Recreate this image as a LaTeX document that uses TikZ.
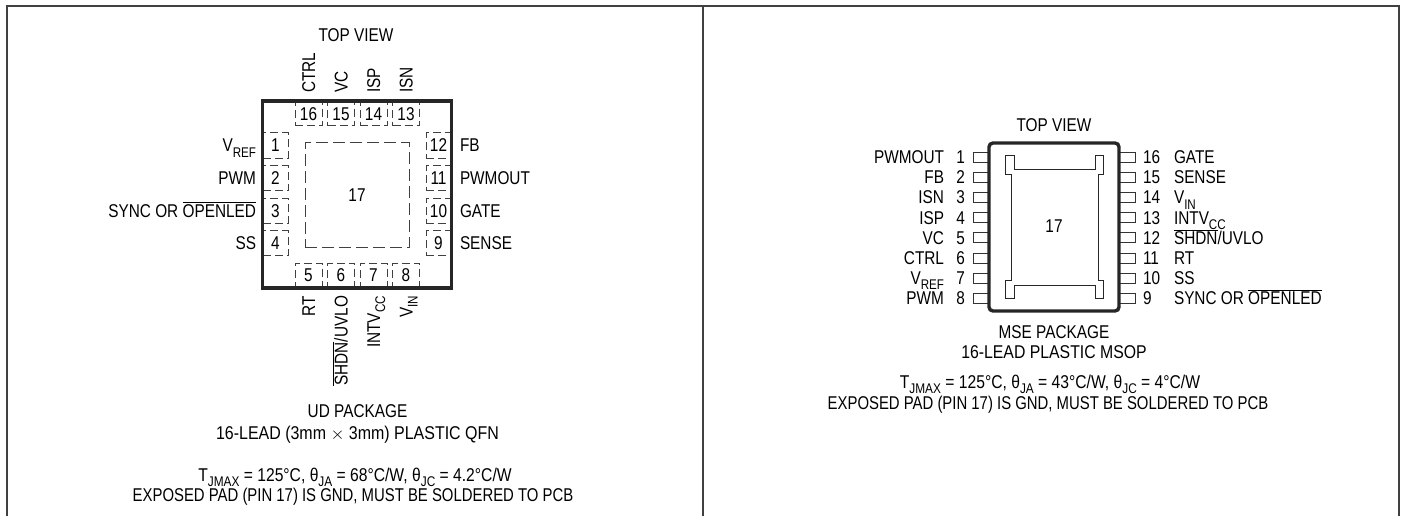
\documentclass[tikz,border=0pt]{standalone}
\usepackage{fontspec}
\setmainfont[FakeStretch=0.83]{Liberation Sans}
\usetikzlibrary{positioning}

\newcommand{\pinsub}[1]{\raisebox{-0.28em}{\fontsize{14}{14}\selectfont #1}}
\newcommand{\pinbar}[1]{$\overline{\mbox{#1}}$}

\tikzset{
	pinfont/.style={inner sep=0pt, outer sep=0pt, font=\fontsize{18.5}{20}\selectfont, text=black, text height=13pt, text depth=0pt},
	qfnpin/.style={pinfont, draw=black!75, line width=1pt, dash pattern=on 8pt off 4pt},
	pinh/.style={qfnpin, minimum width=27pt, minimum height=23pt},
	pinv/.style={qfnpin, minimum width=25pt, minimum height=25pt},
	lead/.style={draw=black!80, line width=1pt, minimum width=16pt, minimum height=10pt, inner sep=0pt},
	caption/.style={inner sep=0pt, align=center, font=\fontsize{18.5}{21}\selectfont, text=black}
}

\begin{document}
\begin{tikzpicture}[x=1pt, y=-1pt]
	\useasboundingbox (0,0) rectangle (1405,516);

	% Riquadri
	\coordinate (frameA) at (7,516);
	\coordinate (frameB) at (7,6.5);
	\coordinate (frameC) at (702.5,6.5);
	\coordinate (frameD) at (702.5,516);
	\coordinate (frameE) at (1399,6.5);
	\coordinate (frameF) at (1399,516);
	\draw[black!75, line width=2pt] (frameA) -- (frameB) -- (frameE) -- (frameF);
	\draw[black!75, line width=2pt] (frameC) -- (frameD);

	% Contenitore QFN
	\node[pinfont] (topq) at (356,35) {TOP VIEW};

	% Piedini in alto
	\node[pinh] (q16) at (308.5,114.5) {16};
	\node[pinh] (q15) at (341,114.5) {15};
	\node[pinh] (q14) at (373.5,114.5) {14};
	\node[pinh] (q13) at (406,114.5) {13};
	\node[pinfont, rotate=90, anchor=west] (lq16) at (308.5,93) {CTRL};
	\node[pinfont, rotate=90, anchor=west] (lq15) at (341,93) {VC};
	\node[pinfont, rotate=90, anchor=west] (lq14) at (373.5,93) {ISP};
	\node[pinfont, rotate=90, anchor=west] (lq13) at (406,93) {ISN};

	% Piedini a sinistra
	\node[pinv] (q1) at (275.5,145.5) {1};
	\node[pinv] (q2) at (275.5,178) {2};
	\node[pinv] (q3) at (275.5,210.5) {3};
	\node[pinv] (q4) at (275.5,243) {4};
	\node[pinfont, left=7pt of q1] (lq1) {V\pinsub{REF}};
	\node[pinfont, left=7pt of q2] (lq2) {PWM};
	\node[pinfont, left=7pt of q3] (lq3) {SYNC OR \pinbar{OPENLED}};
	\node[pinfont, left=7pt of q4] (lq4) {SS};

	% Piedini in basso
	\node[pinh] (q5) at (308.5,274.5) {5};
	\node[pinh] (q6) at (341,274.5) {6};
	\node[pinh] (q7) at (373.5,274.5) {7};
	\node[pinh] (q8) at (406,274.5) {8};
	\node[pinfont, rotate=90, anchor=east] (lq5) at (308.5,296) {RT};
	\node[pinfont, rotate=90, anchor=east] (lq6) at (341,296) {\pinbar{SHDN}/UVLO};
	\node[pinfont, rotate=90, anchor=east] (lq7) at (373.5,296) {INTV\pinsub{CC}};
	\node[pinfont, rotate=90, anchor=east] (lq8) at (406,296) {V\pinsub{IN}};

	% Piedini a destra
	\node[pinv] (q12) at (438.5,145.5) {12};
	\node[pinv] (q11) at (438.5,178) {11};
	\node[pinv] (q10) at (438.5,210.5) {10};
	\node[pinv] (q9) at (438.5,243) {9};
	\node[pinfont, right=9pt of q12] (lq12) {FB};
	\node[pinfont, right=9pt of q11] (lq11) {PWMOUT};
	\node[pinfont, right=9pt of q10] (lq10) {GATE};
	\node[pinfont, right=9pt of q9] (lq9) {SENSE};

	% Piazzola e corpo
	\node[qfnpin, dash pattern=on 12pt off 5pt, minimum width=104pt, minimum height=104pt] (padq) at (357,195) {17};
	\node[draw=black!85, line width=3.6pt, minimum width=189pt, minimum height=187pt] (bodyq) at (357,194.5) {};

	% Testo QFN
	\node[caption] (capq) at (357.5,424) {UD PACKAGE\\[1pt]\scalebox{1.04}[1]{16-LEAD (3mm $\times$ 3mm) PLASTIC QFN}};
	\node[caption, font=\fontsize{18.5}{20}\selectfont] (noteq) at (353,487) {\hspace*{4pt}\scalebox{1.02}[1]{T\pinsub{JMAX} = 125°C, θ\pinsub{JA} = 68°C/W, θ\pinsub{JC} = 4.2°C/W}\\\scalebox{0.97}[1]{EXPOSED PAD (PIN 17) IS GND, MUST BE SOLDERED TO PCB}};

	% Contenitore MSOP
	\node[pinfont] (topm) at (1054,125) {TOP VIEW};

	% Terminali a sinistra
	\node[lead] (m1) at (981.5,157) {};
	\node[lead] (m2) at (981.5,177.2) {};
	\node[lead] (m3) at (981.5,197.4) {};
	\node[lead] (m4) at (981.5,217.6) {};
	\node[lead] (m5) at (981.5,237.8) {};
	\node[lead] (m6) at (981.5,258) {};
	\node[lead] (m7) at (981.5,278.2) {};
	\node[lead] (m8) at (981.5,298.4) {};
	\node[pinfont, left=8pt of m1] (n1) {1};
	\node[pinfont, left=8pt of m2] (n2) {2};
	\node[pinfont, left=8pt of m3] (n3) {3};
	\node[pinfont, left=8pt of m4] (n4) {4};
	\node[pinfont, left=8pt of m5] (n5) {5};
	\node[pinfont, left=8pt of m6] (n6) {6};
	\node[pinfont, left=8pt of m7] (n7) {7};
	\node[pinfont, left=8pt of m8] (n8) {8};
	\node[pinfont, left=29pt of m1] (lm1) {PWMOUT};
	\node[pinfont, left=29pt of m2] (lm2) {FB};
	\node[pinfont, left=29pt of m3] (lm3) {ISN};
	\node[pinfont, left=29pt of m4] (lm4) {ISP};
	\node[pinfont, left=29pt of m5] (lm5) {VC};
	\node[pinfont, left=29pt of m6] (lm6) {CTRL};
	\node[pinfont, left=29pt of m7] (lm7) {V\pinsub{REF}};
	\node[pinfont, left=29pt of m8] (lm8) {PWM};

	% Terminali a destra
	\node[lead] (m16) at (1127.5,157) {};
	\node[lead] (m15) at (1127.5,177.2) {};
	\node[lead] (m14) at (1127.5,197.4) {};
	\node[lead] (m13) at (1127.5,217.6) {};
	\node[lead] (m12) at (1127.5,237.8) {};
	\node[lead] (m11) at (1127.5,258) {};
	\node[lead] (m10) at (1127.5,278.2) {};
	\node[lead] (m9) at (1127.5,298.4) {};
	\node[pinfont, right=7pt of m16] (n16) {16};
	\node[pinfont, right=7pt of m15] (n15) {15};
	\node[pinfont, right=7pt of m14] (n14) {14};
	\node[pinfont, right=7pt of m13] (n13) {13};
	\node[pinfont, right=7pt of m12] (n12) {12};
	\node[pinfont, right=7pt of m11] (n11) {11};
	\node[pinfont, right=7pt of m10] (n10) {10};
	\node[pinfont, right=7pt of m9] (n9) {9};
	\node[pinfont, right=38pt of m16] (lm16) {GATE};
	\node[pinfont, right=38pt of m15] (lm15) {SENSE};
	\node[pinfont, right=38pt of m14] (lm14) {V\pinsub{IN}};
	\node[pinfont, right=38pt of m13] (lm13) {INTV\pinsub{CC}};
	\node[pinfont, right=38pt of m12] (lm12) {\pinbar{SHDN}/UVLO};
	\node[pinfont, right=38pt of m11] (lm11) {RT};
	\node[pinfont, right=38pt of m10] (lm10) {SS};
	\node[pinfont, right=38pt of m9] (lm9) {SYNC OR \pinbar{OPENLED}};

	% Corpo e piazzola
	\node[draw=black!85, fill=white, line width=3.4pt, rounded corners=4pt, minimum width=130pt, minimum height=168pt] (bodym) at (1054,227) {};
	\draw[black!85, line width=1pt] (1005.7,155.7) -- (1014,155.7) -- (1014,169.3) -- (1095,169.3) -- (1095,155.7) -- (1103.3,155.7) -- (1103.3,174) -- (1098,174) -- (1098,280) -- (1103.3,280) -- (1103.3,298.3) -- (1095,298.3) -- (1095,285) -- (1014,285) -- (1014,298.3) -- (1005.7,298.3) -- (1005.7,280) -- (1011,280) -- (1011,174) -- (1005.7,174) -- cycle;
	\node[pinfont] (padm) at (1054,226) {17};

	% Testo MSOP
	\node[caption, font=\fontsize{18.5}{20}\selectfont] (capm) at (1054,342) {MSE PACKAGE\\\scalebox{1.03}[1]{16-LEAD PLASTIC MSOP}};
	\node[caption, font=\fontsize{18.5}{21.5}\selectfont] (notem) at (1048,394) {\hspace*{4pt}\scalebox{1.02}[1]{T\pinsub{JMAX} = 125°C, θ\pinsub{JA} = 43°C/W, θ\pinsub{JC} = 4°C/W}\\\scalebox{0.97}[1]{EXPOSED PAD (PIN 17) IS GND, MUST BE SOLDERED TO PCB}};
\end{tikzpicture}
\end{document}
